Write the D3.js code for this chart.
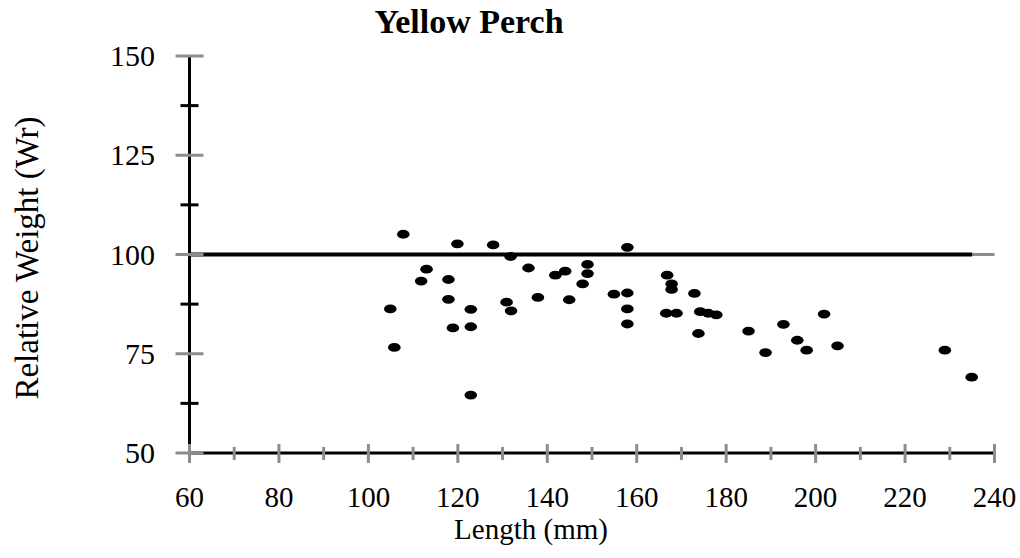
<!DOCTYPE html>
<html>
<head>
<meta charset="utf-8">
<script src="https://cdn.jsdelivr.net/npm/d3@7"></script>
<style>
  body { margin: 0; background: #fff; }
  text { font-family: "Liberation Serif", "Times New Roman", serif; fill: #000; }
</style>
</head>
<body>
<div id="scatter"></div>
<script>
// Data
var lengths = [107.8, 119.9, 127.9, 131.8, 157.9, 113.0, 111.8, 117.9, 135.8, 141.8,
  144.0, 149.0, 149.0, 147.9, 117.9, 137.9, 144.9, 154.9, 157.9, 157.9,
  157.9, 104.9, 122.9, 130.9, 131.9, 118.9, 122.9, 105.8, 122.9, 166.8,
  167.8, 167.8, 172.9, 166.6, 168.9, 174.2, 176.0, 177.8, 173.8, 185.0,
  192.8, 201.9, 195.9, 198.0, 188.8, 204.9, 228.9, 234.9];
var weights = [105.1, 102.7, 102.4, 99.5, 101.8, 96.3, 93.3, 93.7, 96.6, 94.8,
  95.8, 97.5, 95.2, 92.6, 88.7, 89.2, 88.6, 90.0, 90.3, 86.3,
  82.5, 86.3, 86.2, 88.0, 85.8, 81.5, 81.8, 76.6, 64.6, 94.8,
  92.6, 91.2, 90.2, 85.2, 85.2, 85.6, 85.2, 84.8, 80.1, 80.7,
  82.4, 85.0, 78.4, 75.9, 75.3, 77.0, 75.9, 69.1];
var refLength = [60, 235];
var refWeight = 100;
var xTicks = [60, 80, 100, 120, 140, 160, 180, 200, 220, 240];
var xMinorTicks = [70, 90, 110, 130, 150, 170, 190, 210, 230];
var yTicks = [50, 75, 100, 125, 150];
var yMinorTicks = [62.5, 87.5, 112.5, 137.5];

var fish = lengths.map(function(d, i) { return {length: d, wr: weights[i]}; });

var svgWidth = 1020;
var svgHeight = 558;

var svg = d3.select("#scatter")
  .append("svg")
  .attr("width", svgWidth)
  .attr("height", svgHeight);

// Scales
var xScale = d3.scaleLinear().domain([60, 240]).range([189.5, 994.5]);
var yScale = d3.scaleLinear().domain([50, 150]).range([453, 56]);

var gray = "#8c8c8c";

// Gridline behind the reference line (only its end shows)
svg.append("line")
  .attr("x1", xScale(60)).attr("x2", xScale(240))
  .attr("y1", yScale(100)).attr("y2", yScale(100))
  .attr("stroke", gray).attr("stroke-width", 3);

// Reference line at Wr = 100
svg.append("line")
  .attr("x1", xScale(refLength[0])).attr("x2", xScale(refLength[1]))
  .attr("y1", yScale(refWeight)).attr("y2", yScale(refWeight))
  .attr("stroke", "#000").attr("stroke-width", 4);

// Axes lines
// ==============================
svg.append("line")
  .attr("x1", xScale(60)).attr("x2", xScale(60))
  .attr("y1", yScale(150)).attr("y2", yScale(50))
  .attr("stroke", "#000").attr("stroke-width", 3);

svg.append("line")
  .attr("x1", xScale(60)).attr("x2", xScale(240))
  .attr("y1", yScale(50)).attr("y2", yScale(50))
  .attr("stroke", "#000").attr("stroke-width", 3);

// Y ticks
svg.selectAll(".yminor")
  .data(yMinorTicks)
  .enter()
  .append("line")
  .attr("x1", xScale(60) - 9).attr("x2", xScale(60) + 9)
  .attr("y1", d => yScale(d)).attr("y2", d => yScale(d))
  .attr("stroke", "#000").attr("stroke-width", 3);

svg.selectAll(".ymajor")
  .data(yTicks)
  .enter()
  .append("line")
  .attr("x1", xScale(60) - 14).attr("x2", xScale(60) + 14)
  .attr("y1", d => yScale(d)).attr("y2", d => yScale(d))
  .attr("stroke", gray).attr("stroke-width", 3);

// X ticks
svg.selectAll(".xminor")
  .data(xMinorTicks)
  .enter()
  .append("line")
  .attr("x1", d => xScale(d)).attr("x2", d => xScale(d))
  .attr("y1", yScale(50) - 6).attr("y2", yScale(50) + 7)
  .attr("stroke", gray).attr("stroke-width", 3);

svg.selectAll(".xmajor")
  .data(xTicks)
  .enter()
  .append("line")
  .attr("x1", d => xScale(d)).attr("x2", d => xScale(d))
  .attr("y1", yScale(50) - 9).attr("y2", yScale(50) + 10)
  .attr("stroke", gray).attr("stroke-width", 3);

// Tick labels
svg.selectAll(".ylabel")
  .data(yTicks)
  .enter()
  .append("text")
  .attr("x", 155)
  .attr("y", d => yScale(d) + 10)
  .style("font-size", "30px")
  .style("text-anchor", "end")
  .text(d => d);

svg.selectAll(".xlabel")
  .data(xTicks)
  .enter()
  .append("text")
  .attr("x", d => xScale(d))
  .attr("y", 507)
  .style("font-size", "29px")
  .style("text-anchor", "middle")
  .text(d => d);

// Points
// ==============================
svg.selectAll("ellipse")
  .data(fish)
  .enter()
  .append("ellipse")
  .attr("cx", d => xScale(d.length))
  .attr("cy", d => yScale(d.wr))
  .attr("rx", 6.3)
  .attr("ry", 4.4)
  .attr("fill", "#000");

// Titles
svg.append("text")
  .attr("x", 469)
  .attr("y", 33)
  .style("font-size", "34px")
  .style("font-weight", "bold")
  .style("text-anchor", "middle")
  .text("Yellow Perch");

svg.append("text")
  .attr("transform", "translate(38, 258) rotate(-90)")
  .style("font-size", "33px")
  .style("text-anchor", "middle")
  .text("Relative Weight (Wr)");

svg.append("text")
  .attr("x", 531)
  .attr("y", 539)
  .style("font-size", "29px")
  .style("text-anchor", "middle")
  .text("Length (mm)");
</script>
</body>
</html>
